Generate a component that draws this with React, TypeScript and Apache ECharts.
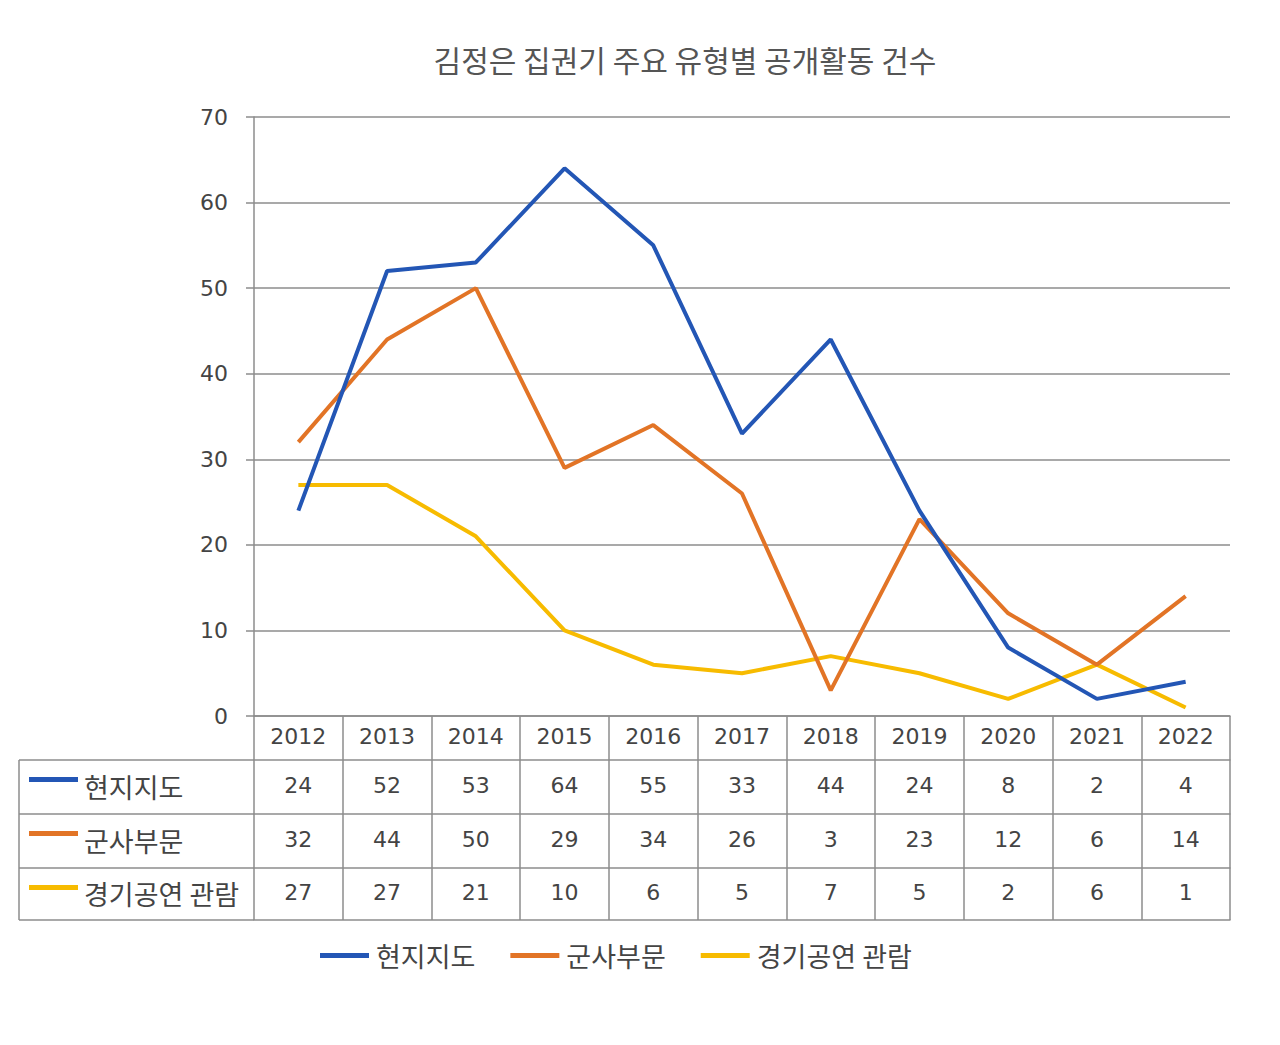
import React, { useEffect, useRef } from "react";
import * as echarts from "echarts";

const title = "김정은 집권기 주요 유형별 공개활동 건수";
const years = ["2012", "2013", "2014", "2015", "2016", "2017", "2018", "2019", "2020", "2021", "2022"];
const seriesNames = ["현지지도", "군사부문", "경기공연 관람"];
const onsite = [24, 52, 53, 64, 55, 33, 44, 24, 8, 2, 4];
const military = [32, 44, 50, 29, 34, 26, 3, 23, 12, 6, 14];
const performance = [27, 27, 21, 10, 6, 5, 7, 5, 2, 6, 1];
const yTicks = { min: 0, max: 70, interval: 10 };

const colors = ["#2356b5", "#e27426", "#f7bb00"];
const FONT = "Noto Sans CJK KR";
const NUMFONT = "DejaVu Sans";
const LINE = "#8c8c8c";

export default function App() {
  const ref = useRef<HTMLDivElement>(null);
  useEffect(() => {
    document.body.style.margin = "0";
    if (!ref.current) return;
    const chart = echarts.init(ref.current, null, { renderer: "svg" });
    const values = [onsite, military, performance];
    const gridLeft = 254;
    const gridRight = 1230;
    const axisY = 716;
    const rowTops = [760, 814, 868];
    const rowBottom = 920;
    const offsets = rowTops.map((t) => t - axisY);
    const rowH = [54, 54, 52];
    const margins = [14, 14, 13];

    const xAxes: any[] = [
      {
        type: "category",
        data: years,
        boundaryGap: true,
        position: "bottom",
        axisLine: { show: true, lineStyle: { color: LINE, width: 1.5 } },
        axisTick: { show: true, interval: 0, length: rowTops[0] - axisY, lineStyle: { color: LINE, width: 1.5 } },
        axisLabel: { interval: 0, margin: 9, fontSize: 22, color: "#444", fontFamily: NUMFONT },
      },
    ];
    values.forEach((arr, i) => {
      xAxes.push({
        type: "category",
        data: arr.map(String),
        boundaryGap: true,
        position: "bottom",
        offset: offsets[i],
        axisLine: { show: true, lineStyle: { color: LINE, width: 1.5 } },
        axisTick: { show: true, interval: 0, length: rowH[i], lineStyle: { color: LINE, width: 1.5 } },
        axisLabel: { interval: 0, margin: margins[i], fontSize: 22, color: "#444", fontFamily: NUMFONT },
      });
    });
    xAxes.push({
      type: "category",
      data: years,
      position: "bottom",
      offset: rowBottom - axisY,
      axisLine: { show: true, lineStyle: { color: LINE, width: 1.5 } },
      axisTick: { show: false },
      axisLabel: { show: false },
    });

    const graphics: any[] = [];
    [...rowTops, rowBottom].forEach((y) => {
      graphics.push({
        type: "line",
        shape: { x1: 19, y1: y, x2: gridLeft, y2: y },
        style: { stroke: LINE, lineWidth: 1.5 },
      });
    });
    graphics.push({
      type: "line",
      shape: { x1: 19, y1: rowTops[0], x2: 19, y2: rowBottom },
      style: { stroke: LINE, lineWidth: 1.5 },
    });
    seriesNames.forEach((name, i) => {
      const top = rowTops[i];
      graphics.push({
        type: "rect",
        shape: { x: 29, y: top + 17, width: 49, height: 5 },
        style: { fill: colors[i] },
      });
      graphics.push({
        type: "text",
        x: 84,
        y: top + rowH[i] / 2 - 1,
        style: {
          text: name,
          fontSize: 27,
          fill: "#444",
          fontFamily: FONT,
          verticalAlign: "middle",
          align: "left",
        },
      });
    });

    chart.setOption({
      animation: false,
      backgroundColor: "#fff",
      title: {
        text: title,
        left: 680,
        top: 39,
        textAlign: "center",
        textStyle: { fontSize: 30, fontWeight: "normal", color: "#555", fontFamily: FONT },
      },
      grid: { left: gridLeft, right: 1280 - gridRight, top: 117, bottom: 1045 - axisY, containLabel: false },
      legend: {
        data: seriesNames,
        top: 942,
        left: 320,
        padding: 0,
        icon: "rect",
        itemWidth: 49,
        itemHeight: 5,
        itemGap: 35,
        textStyle: { fontSize: 27, color: "#444", fontFamily: FONT, padding: [0, 0, 0, 2] },
      },
      xAxis: xAxes,
      yAxis: {
        type: "value",
        min: yTicks.min,
        max: yTicks.max,
        interval: yTicks.interval,
        axisLine: { show: true, lineStyle: { color: LINE, width: 1.5 } },
        axisTick: { show: true, length: 8, lineStyle: { color: LINE, width: 1.5 } },
        splitLine: { show: true, lineStyle: { color: LINE, width: 1.5 } },
        axisLabel: { margin: 26, fontSize: 22, color: "#444", fontFamily: NUMFONT },
      },
      graphic: graphics,
      series: seriesNames.map((name, i) => ({
        name,
        type: "line",
        xAxisIndex: 0,
        data: values[i],
        showSymbol: false,
        symbol: "none",
        lineStyle: { color: colors[i], width: 4 },
        itemStyle: { color: colors[i] },
        z: 3 + (2 - i),
      })),
    });
    return () => chart.dispose();
  }, []);
  return <div ref={ref} style={{ width: 1280, height: 1045 }} />;
}
